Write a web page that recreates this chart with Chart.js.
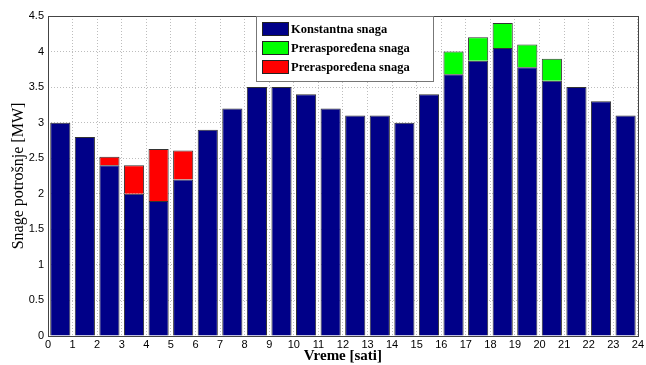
<!DOCTYPE html>
<html><head><meta charset="utf-8">
<script src="https://cdn.jsdelivr.net/npm/chart.js@4/dist/chart.umd.min.js"></script>
<style>html,body{margin:0;padding:0;background:#fff}#wrap{width:646px;height:365px;position:relative}</style>
</head><body><div id="wrap"><canvas id="c"></canvas></div>
<script>
// Hours (start of each one-hour interval)
const hours = [0,1,2,3,4,5,6,7,8,9,10,11,12,13,14,15,16,17,18,19,20,21,22,23];
// Constant load [MW]
const konstantna = [3.0,2.8,2.4,2.0,1.9,2.2,2.9,3.2,3.5,3.5,3.4,3.2,3.1,3.1,3.0,3.4,3.68,3.87,4.05,3.78,3.59,3.5,3.3,3.1];
// Redistributed load added on top (green)
const preraspZelena = [null,null,null,null,null,null,null,null,null,null,null,null,null,null,null,null,0.32,0.33,0.35,0.32,0.31,null,null,null];
// Redistributed load added on top (red)
const preraspCrvena = [null,null,0.12,0.40,0.73,0.41,null,null,null,null,null,null,null,null,null,null,null,null,null,null,null,null,null,null];
// Axis ticks
const xTicks = [0,1,2,3,4,5,6,7,8,9,10,11,12,13,14,15,16,17,18,19,20,21,22,23,24];
const yTicks = [0,0.5,1,1.5,2,2.5,3,3.5,4,4.5];
const labels = ['Konstantna snaga','Preraspoređena snaga','Preraspoređena snaga'];

const toPts = arr => hours.map((h,i)=>({x:h+0.5, y:arr[i]}));

const frameAndLegend = {
  id:'frameAndLegend',
  afterDatasetsDraw(chart){
    const {ctx, chartArea:a} = chart;
    ctx.save();
    ctx.strokeStyle='#444'; ctx.lineWidth=1;
    ctx.strokeRect(Math.round(a.left)+0.5, Math.round(a.top)+0.5, Math.round(a.right-a.left), Math.round(a.bottom-a.top));
    ctx.restore();
  },
  afterDraw(chart){
    const ctx = chart.ctx;
    const bx=256, by=16, bw=177, bh=65;
    ctx.save();
    ctx.fillStyle='#fff'; ctx.fillRect(bx,by,bw,bh);
    ctx.strokeStyle='#777'; ctx.lineWidth=1; ctx.strokeRect(bx+0.5,by+0.5,bw,bh);
    ctx.font='bold 12.5px "Liberation Serif", serif';
    ctx.textBaseline='middle';
    chart.data.datasets.forEach((ds,i)=>{
      const y = by+6+i*19;
      ctx.fillStyle=ds.backgroundColor;
      ctx.fillRect(bx+6,y,27,14);
      ctx.strokeStyle='#222'; ctx.strokeRect(bx+6.5,y+0.5,26,13);
      ctx.fillStyle='#000';
      ctx.fillText(ds.label, bx+35, y+7.5);
    });
    ctx.restore();
  }
};

new Chart(document.getElementById('c'),{
  type:'bar',
  data:{datasets:[
    {label:labels[0], data:toPts(konstantna), backgroundColor:'#000088', borderColor:'#333', borderWidth:1},
    {label:labels[1], data:toPts(preraspZelena), backgroundColor:'#00ff00', borderColor:'#333', borderWidth:1},
    {label:labels[2], data:toPts(preraspCrvena), backgroundColor:'#ff0000', borderColor:'#333', borderWidth:1}
  ]},
  options:{
    responsive:true, maintainAspectRatio:false, animation:false,
    layout:{padding:{top:16,right:8,left:0,bottom:0}},
    datasets:{bar:{categoryPercentage:1, barPercentage:0.82, borderSkipped:'start'}},
    plugins:{legend:{display:false}, tooltip:{enabled:false}},
    scales:{
      x:{type:'linear', stacked:true, min:0, max:24, offset:false,
        afterBuildTicks(s){ s.ticks = xTicks.map(v=>({value:v})); },
        afterFit(s){ s.height = 29; },
        grid:{offset:false, drawTicks:false, color:'#bdbdbd'},
        border:{display:false, dash:[1,2]},
        ticks:{padding:2, autoSkip:false, maxRotation:0, color:'#000', font:{family:'"Liberation Sans", Arial, sans-serif', size:11}, callback:v=>String(v)},
        title:{display:true, text:'Vreme [sati]', color:'#000', padding:{top:0,bottom:0}, font:{family:'"Liberation Serif", serif', size:15, weight:'bold'}}
      },
      y:{stacked:true, min:0, max:4.5,
        afterBuildTicks(s){ s.ticks = yTicks.map(v=>({value:v})); },
        afterFit(s){ s.width = 48; },
        grid:{drawTicks:false, color:'#bdbdbd'},
        border:{display:false, dash:[1,2]},
        ticks:{padding:4, color:'#000', font:{family:'"Liberation Sans", Arial, sans-serif', size:11}, callback:v=>String(v)},
        title:{display:true, text:'Snage potrošnje [MW]', color:'#000', padding:{top:9,bottom:0}, font:{family:'"Liberation Serif", serif', size:16}}
      }
    }
  },
  plugins:[frameAndLegend]
});
</script></body></html>
